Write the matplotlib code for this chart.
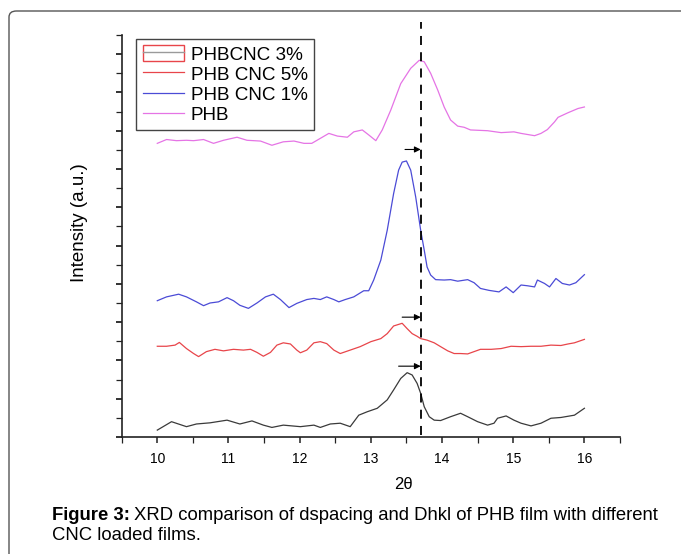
import matplotlib
matplotlib.use("Agg")
import matplotlib.pyplot as plt
from matplotlib.patches import Patch, FancyBboxPatch
from matplotlib.lines import Line2D
from matplotlib.legend_handler import HandlerTuple
from matplotlib.ticker import MultipleLocator, NullFormatter

plt.rcParams['font.family'] = ['Liberation Sans', 'DejaVu Sans']

# ---- data (2theta, intensity a.u., stacked) ----
x_cnc3 = [10.00, 10.20, 10.41, 10.55, 10.74, 10.98, 11.16, 11.33, 11.49, 11.61, 11.77, 12.01, 12.20, 12.29,
          12.43, 12.57, 12.71, 12.83, 12.95, 13.09, 13.23, 13.32, 13.42, 13.51, 13.58, 13.65, 13.70, 13.75,
          13.82, 13.89, 13.98, 14.12, 14.26, 14.36, 14.50, 14.64, 14.73, 14.78, 14.90, 15.01, 15.11, 15.25,
          15.39, 15.53, 15.67, 15.86, 16.00]
y_cnc3 = [0.18, 0.40, 0.27, 0.34, 0.37, 0.44, 0.34, 0.42, 0.31, 0.25, 0.31, 0.27, 0.31, 0.25,
          0.34, 0.36, 0.27, 0.57, 0.66, 0.75, 0.97, 1.23, 1.53, 1.68, 1.62, 1.40, 1.14, 0.79,
          0.53, 0.44, 0.43, 0.53, 0.62, 0.53, 0.40, 0.31, 0.36, 0.49, 0.55, 0.44, 0.36, 0.29,
          0.36, 0.49, 0.51, 0.57, 0.75]

x_cnc5 = [10.00, 10.13, 10.25, 10.31, 10.41, 10.51, 10.58, 10.69, 10.81, 10.93, 11.07, 11.21, 11.31, 11.40,
          11.49, 11.59, 11.68, 11.77, 11.87, 11.96, 12.01, 12.10, 12.20, 12.29, 12.38, 12.48, 12.57, 12.71,
          12.85, 13.00, 13.14, 13.23, 13.32, 13.44, 13.51, 13.58, 13.65, 13.70, 13.79, 13.89, 13.98, 14.08,
          14.17, 14.26, 14.36, 14.45, 14.54, 14.69, 14.83, 14.97, 15.11, 15.25, 15.39, 15.53, 15.67, 15.77,
          15.86, 16.00]
y_cnc5 = [2.37, 2.37, 2.40, 2.47, 2.31, 2.18, 2.10, 2.23, 2.29, 2.25, 2.29, 2.27, 2.29, 2.21,
          2.11, 2.21, 2.40, 2.46, 2.43, 2.27, 2.20, 2.27, 2.46, 2.49, 2.44, 2.27, 2.18, 2.27,
          2.36, 2.49, 2.57, 2.70, 2.90, 2.97, 2.83, 2.70, 2.63, 2.57, 2.53, 2.46, 2.36, 2.25,
          2.18, 2.18, 2.17, 2.23, 2.29, 2.29, 2.31, 2.37, 2.36, 2.37, 2.37, 2.40, 2.39, 2.43,
          2.46, 2.55]

x_cnc1 = [10.00, 10.13, 10.30, 10.41, 10.55, 10.65, 10.74, 10.86, 10.98, 11.07, 11.16, 11.28, 11.40, 11.52,
          11.63, 11.73, 11.85, 11.96, 12.10, 12.20, 12.29, 12.38, 12.48, 12.55, 12.64, 12.76, 12.90, 12.97,
          13.04, 13.14, 13.23, 13.32, 13.39, 13.44, 13.50, 13.56, 13.63, 13.70, 13.75, 13.79, 13.84, 13.91,
          14.03, 14.12, 14.22, 14.36, 14.45, 14.54, 14.66, 14.80, 14.90, 15.00, 15.11, 15.20, 15.30, 15.34,
          15.44, 15.51, 15.60, 15.69, 15.79, 15.88, 16.00]
y_cnc1 = [3.56, 3.66, 3.73, 3.66, 3.53, 3.43, 3.50, 3.53, 3.64, 3.56, 3.44, 3.36, 3.50, 3.66,
          3.73, 3.59, 3.38, 3.49, 3.59, 3.62, 3.59, 3.66, 3.59, 3.53, 3.59, 3.66, 3.82, 3.82,
          4.10, 4.62, 5.40, 6.36, 6.97, 7.18, 7.21, 6.97, 6.27, 5.40, 4.88, 4.44, 4.23, 4.11,
          4.10, 4.11, 4.07, 4.11, 4.03, 3.88, 3.83, 3.79, 3.92, 3.77, 3.97, 3.95, 3.92, 4.10,
          4.01, 3.92, 4.14, 4.01, 3.97, 4.03, 4.24]

x_phb = [10.00, 10.13, 10.27, 10.41, 10.51, 10.65, 10.79, 10.93, 11.12, 11.26, 11.45, 11.61, 11.77, 11.92,
         12.06, 12.17, 12.29, 12.41, 12.53, 12.67, 12.76, 12.88, 12.97, 13.07, 13.16, 13.28, 13.42, 13.56,
         13.68, 13.75, 13.84, 13.94, 14.03, 14.12, 14.22, 14.31, 14.40, 14.64, 14.83, 15.01, 15.11, 15.30,
         15.39, 15.48, 15.58, 15.63, 15.77, 15.91, 16.00]
y_phb = [7.67, 7.77, 7.74, 7.75, 7.74, 7.77, 7.67, 7.75, 7.83, 7.75, 7.73, 7.62, 7.71, 7.73,
         7.67, 7.67, 7.80, 7.93, 7.86, 7.83, 7.97, 8.02, 7.89, 7.74, 8.02, 8.54, 9.23, 9.63,
         9.84, 9.80, 9.50, 9.06, 8.62, 8.28, 8.12, 8.09, 8.02, 8.00, 7.95, 7.97, 7.93, 7.87,
         7.93, 8.03, 8.23, 8.35, 8.47, 8.58, 8.62]

ref_line_x = 13.70
arrow_y = [1.85, 3.13, 7.51]
arrow_start = [13.39, 13.44, 13.48]

labels = ["PHBCNC 3%", "PHB CNC 5%", "PHB CNC 1%", "PHB"]
x_ticks = [10, 11, 12, 13, 14, 15, 16]

c_black = '#3a3a3a'
c_red = '#e8454a'
c_blue = '#4b4bd6'
c_pink = '#e574e5'

fig = plt.figure(figsize=(6.81, 5.54), dpi=100)
fig.patch.set_facecolor('white')

# outer rounded frame
frame = FancyBboxPatch((9 / 681, -0.2), 1.2, 1 - 11 / 554 + 0.2,
                       boxstyle="round,pad=0,rounding_size=0.011",
                       transform=fig.transFigure, fill=False,
                       edgecolor='#555555', lw=1.0)
fig.patches.append(frame)

ax = fig.add_axes([121.7 / 681, 1 - 437 / 554, (620 - 121.7) / 681, (437 - 35) / 554])

l1, = ax.plot(x_cnc3, y_cnc3, color=c_black, lw=0.9)
l2, = ax.plot(x_cnc5, y_cnc5, color=c_red, lw=0.9)
l3, = ax.plot(x_cnc1, y_cnc1, color=c_blue, lw=0.9)
l4, = ax.plot(x_phb, y_phb, color=c_pink, lw=0.9)

ax.plot([ref_line_x, ref_line_x], [0.05, 10.83], color='black', lw=1.3,
        dashes=(5, 4), clip_on=False)

for ya, xs in zip(arrow_y, arrow_start):
    ax.annotate('', xy=(ref_line_x, ya), xytext=(xs, ya),
                arrowprops=dict(arrowstyle='-|>', color='black', lw=0.8,
                                mutation_scale=9, shrinkA=0, shrinkB=0))

ax.set_xlim(9.5, 16.5)
ax.set_ylim(0, 10.5)
ax.set_xticks(x_ticks)
ax.set_xticklabels([str(t) for t in x_ticks])
ax.xaxis.set_minor_locator(MultipleLocator(0.5))
ax.yaxis.set_major_locator(MultipleLocator(1))
ax.yaxis.set_minor_locator(MultipleLocator(0.5))
ax.yaxis.set_major_formatter(NullFormatter())

for s in ['top', 'right']:
    ax.spines[s].set_visible(False)
for s in ['left', 'bottom']:
    ax.spines[s].set_linewidth(1.2)
    ax.spines[s].set_color('#222222')

ax.tick_params(axis='x', which='major', direction='out', length=4.5, width=1.1,
               labelsize=10, pad=6, color='#222222')
ax.tick_params(axis='x', which='minor', direction='out', length=4, width=0.9, color='#222222')
ax.tick_params(axis='y', which='major', direction='out', length=4.5, width=1.3, color='#222222')
ax.tick_params(axis='y', which='minor', direction='out', length=4, width=0.9, color='#222222')

ax.set_ylabel('Intensity (a.u.)', fontsize=13.5)
ax.yaxis.set_label_coords(-0.0676, 0.534)
ax.set_xlabel('2θ', fontsize=12)
ax.xaxis.set_label_coords(0.565, -0.10)

h1 = (Patch(facecolor='none', edgecolor='#e8454a', lw=1.0),
      Line2D([], [], color='#9a9a9a', lw=1.0))
leg = ax.legend([h1, l2, l3, l4], labels, loc='upper left',
                bbox_to_anchor=(0.022, 1.0), fontsize=13.6, frameon=True,
                fancybox=False, edgecolor='#444444', framealpha=1,
                handlelength=2.2, handleheight=0.95, handletextpad=0.35,
                labelspacing=0.08, borderpad=0.33, borderaxespad=0.2,
                handler_map={tuple: HandlerTuple(ndivide=1)})
leg.get_frame().set_linewidth(1.0)

# caption
cap_fs = 13.3
t1 = fig.text(52 / 681, 1 - 515 / 554, 'Figure 3:', fontsize=cap_fs, fontweight='bold',
              ha='left', va='center')
fig.canvas.draw()
r = fig.canvas.get_renderer()
bb = t1.get_window_extent(renderer=r)
x2 = (bb.x1 + 4) / fig.bbox.width
fig.text(x2, 1 - 515 / 554, 'XRD comparison of dspacing and Dhkl of PHB film with different',
         fontsize=cap_fs, ha='left', va='center')
fig.text(52 / 681, 1 - 536 / 554, 'CNC loaded films.', fontsize=cap_fs, ha='left', va='center')

fig.savefig('out.png', dpi=100)
